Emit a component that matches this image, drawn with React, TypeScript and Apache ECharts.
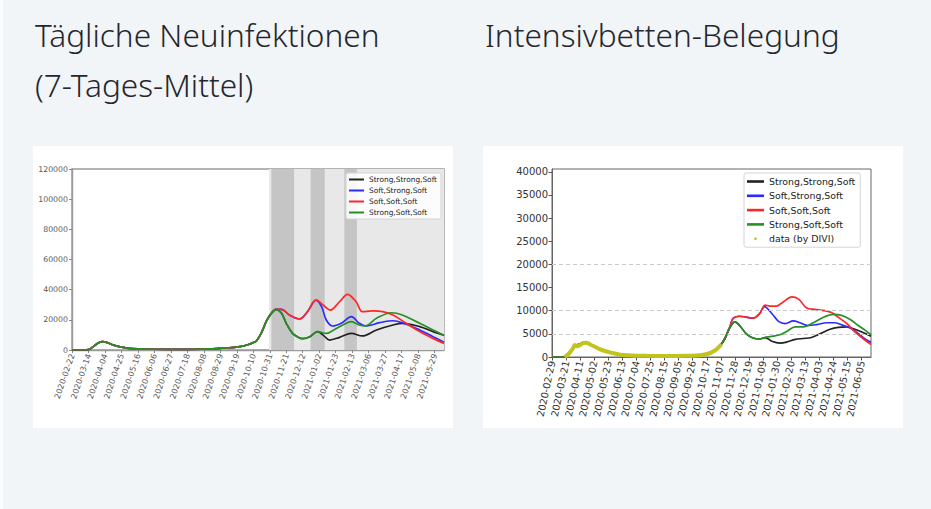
import { useEffect, useRef } from 'react';
import * as echarts from 'echarts';

// Tägliche Neuinfektionen (x: days since 2020-02-22)
const INF_START = '2020-02-22';
const INF_END_DAY = 474;

const infTrunkDates = [
  '2020-02-22', '2020-03-07', '2020-03-14', '2020-03-21', '2020-03-27', '2020-04-01',
  '2020-04-07', '2020-04-14', '2020-04-22', '2020-05-02', '2020-05-16', '2020-06-06',
  '2020-07-11', '2020-08-15', '2020-08-28', '2020-09-09', '2020-09-23', '2020-10-03',
  '2020-10-10', '2020-10-14', '2020-10-20', '2020-10-27', '2020-11-02', '2020-11-08',
];
const infTrunkValues = [
  0, 0, 200, 2600, 4800, 5500, 4900, 3400, 2200, 1300, 800, 500,
  400, 700, 1100, 1500, 2200, 3500, 4900, 6000, 11000, 19400, 24300, 27000,
];

const infGreenDates = [
  '2020-11-15', '2020-11-21', '2020-11-29', '2020-12-06', '2020-12-12', '2020-12-21',
  '2020-12-31', '2021-01-11', '2021-01-19', '2021-02-01', '2021-02-12', '2021-02-22',
  '2021-03-01', '2021-03-16', '2021-04-04', '2021-04-18', '2021-05-10', '2021-05-27', '2021-06-10',
];
const infGreenValues = [
  24300, 17700, 11000, 8500, 7500, 8800, 12200, 11000, 12800, 16600, 18800, 16600,
  15900, 21000, 24700, 23200, 17700, 13300, 9600,
];

const infRedDates = [
  '2020-11-15', '2020-11-25', '2020-12-08', '2020-12-18', '2020-12-29', '2021-01-07',
  '2021-01-16', '2021-01-28', '2021-02-07', '2021-02-18', '2021-02-26', '2021-03-11',
  '2021-03-24', '2021-04-06', '2021-04-23', '2021-05-10', '2021-05-27', '2021-06-10',
];
const infRedValues = [
  27000, 23200, 20600, 25400, 33200, 29800, 26500, 32000, 36900, 32000, 25400, 25900,
  25400, 23200, 17700, 12200, 7700, 4300,
];

const infBlueDates = [
  '2020-11-15', '2020-11-25', '2020-12-08', '2020-12-18', '2020-12-29', '2021-01-05',
  '2021-01-11', '2021-01-19', '2021-01-30', '2021-02-12', '2021-02-22', '2021-03-03',
  '2021-03-20', '2021-04-06', '2021-04-18', '2021-05-10', '2021-05-27', '2021-06-10',
];
const infBlueValues = [
  27000, 23200, 20600, 25400, 33000, 28700, 19900, 15900, 17700, 22100, 17700, 15900,
  18100, 19400, 18100, 13300, 8800, 5200,
];

const infBlackDates = [
  '2020-11-15', '2020-11-21', '2020-11-29', '2020-12-06', '2020-12-12', '2020-12-21',
  '2020-12-31', '2021-01-07', '2021-01-15', '2021-01-28', '2021-02-12', '2021-02-26',
  '2021-03-16', '2021-04-06', '2021-04-18', '2021-05-10', '2021-05-27', '2021-06-10',
];
const infBlackValues = [
  24300, 17700, 11000, 8500, 7500, 8800, 12200, 9900, 6600, 8400, 11000, 9300,
  13300, 16600, 17700, 15500, 12200, 9800,
];

// shaded periods
const lightPeriod = ['2020-10-30', '2021-06-10'];
const darkPeriods = [
  ['2020-11-02', '2020-12-01'],
  ['2020-12-22', '2021-01-09'],
  ['2021-02-03', '2021-02-19'],
];

// Intensivbetten-Belegung (x: days since 2020-02-29)
const ICU_START = '2020-02-29';
const ICU_END_DAY = 476;

const icuTrunkDates = [
  '2020-02-29', '2020-03-19', '2020-03-27', '2020-04-03', '2020-04-10', '2020-04-17',
  '2020-04-24', '2020-05-01', '2020-05-11', '2020-05-21', '2020-06-03', '2020-06-18',
  '2020-07-18', '2020-08-27', '2020-10-01', '2020-10-17', '2020-10-27', '2020-11-06',
  '2020-11-13', '2020-11-20',
];
const icuTrunkValues = [
  0, 0, 1200, 2300, 2800, 3100, 2800, 2300, 1700, 1200, 700, 400,
  250, 250, 350, 600, 1300, 2500, 4000, 6300,
];

const icuGreenDates = [
  '2020-11-28', '2020-12-05', '2020-12-15', '2020-12-25', '2021-01-04', '2021-01-14',
  '2021-01-24', '2021-02-03', '2021-02-13', '2021-02-26', '2021-03-10', '2021-03-25',
  '2021-04-09', '2021-04-24', '2021-05-06', '2021-05-19', '2021-05-31', '2021-06-10', '2021-06-19',
];
const icuGreenValues = [
  7600, 6800, 5000, 4100, 3900, 4300, 4500, 4800, 5500, 6500, 6500, 7400,
  8600, 9200, 9000, 8100, 6800, 5800, 4800,
];

const icuRedDates = [
  '2020-11-25', '2020-12-05', '2020-12-15', '2020-12-25', '2021-01-04', '2021-01-12',
  '2021-01-19', '2021-01-29', '2021-02-08', '2021-02-21', '2021-03-03', '2021-03-15',
  '2021-03-27', '2021-04-11', '2021-04-21', '2021-05-01', '2021-05-14', '2021-05-26',
  '2021-06-07', '2021-06-19',
];
const icuRedValues = [
  8300, 8800, 8600, 8400, 9400, 11200, 11000, 11000, 11900, 13000, 12500, 10600,
  10300, 10000, 9600, 8600, 7200, 5400, 4000, 2700,
];

const icuBlueDates = [
  '2020-11-25', '2020-12-05', '2020-12-15', '2020-12-25', '2021-01-04', '2021-01-11',
  '2021-01-22', '2021-02-01', '2021-02-11', '2021-02-23', '2021-03-05', '2021-03-17',
  '2021-03-30', '2021-04-14', '2021-04-26', '2021-05-09', '2021-05-21', '2021-06-03',
  '2021-06-13', '2021-06-19',
];
const icuBlueValues = [
  8300, 8800, 8600, 8400, 9400, 10900, 9400, 7700, 7200, 7800, 7400, 6800,
  7000, 7400, 7400, 6800, 6100, 4700, 3600, 3200,
];

const icuBlackDates = [
  '2020-11-28', '2020-12-05', '2020-12-15', '2020-12-25', '2021-01-04', '2021-01-12',
  '2021-01-22', '2021-02-03', '2021-02-13', '2021-02-26', '2021-03-10', '2021-03-22',
  '2021-04-04', '2021-04-19', '2021-05-01', '2021-05-14', '2021-05-26', '2021-06-07', '2021-06-19',
];
const icuBlackValues = [
  7600, 6800, 5000, 4100, 3900, 4200, 3400, 3000, 3200, 3800, 4000, 4200,
  5000, 6000, 6400, 6500, 6000, 5300, 4500,
];

const diviDates = [
  '2020-03-19', '2020-03-25', '2020-03-31', '2020-04-03', '2020-04-06', '2020-04-10',
  '2020-04-15', '2020-04-20', '2020-04-26', '2020-05-03', '2020-05-10', '2020-05-18',
  '2020-05-28', '2020-06-10', '2020-06-25', '2020-07-20', '2020-08-20', '2020-09-15',
  '2020-10-01', '2020-10-10', '2020-10-17', '2020-10-24', '2020-10-31', '2020-11-05', '2020-11-08',
];
const diviValues = [
  0, 700, 1800, 2600, 2300, 2500, 3000, 3100, 2700, 2200, 1700, 1300,
  900, 500, 350, 250, 230, 280, 350, 450, 650, 1000, 1600, 2300, 2700,
];

const icuThresholds = [5000, 10000, 20000];

const SERIES_NAMES = ['Strong,Strong,Soft', 'Soft,Strong,Soft', 'Soft,Soft,Soft', 'Strong,Soft,Soft'];
const SERIES_COLORS = ['#222222', '#2b2bff', '#ff2626', '#259125'];
const DIVI_NAME = 'data (by DIVI)';

const DAY = 86400000;
const dayOf = (date: string, start: string) => Math.round((Date.parse(date) - Date.parse(start)) / DAY);
const dateOf = (day: number, start: string) =>
  new Date(Date.parse(start) + day * DAY).toISOString().slice(0, 10);

function pairs(start: string, dates: string[], values: number[]) {
  return dates.map((d, i) => [dayOf(d, start), values[i]]);
}

const FONT = 'DejaVu Sans';
const TITLE_STYLE = {
  fontFamily: 'Noto Sans',
  fontSize: 31.6,
  fontWeight: 300,
  color: '#25272c',
  lineHeight: 50,
};

export default function App() {
  const ref = useRef<HTMLDivElement>(null);

  useEffect(() => {
    if (!ref.current) return;
    const chart = echarts.init(ref.current, undefined, { renderer: 'svg' });

    const infTrunk = pairs(INF_START, infTrunkDates, infTrunkValues);
    const infTails = [
      pairs(INF_START, infBlackDates, infBlackValues),
      pairs(INF_START, infBlueDates, infBlueValues),
      pairs(INF_START, infRedDates, infRedValues),
      pairs(INF_START, infGreenDates, infGreenValues),
    ];
    const icuTrunk = pairs(ICU_START, icuTrunkDates, icuTrunkValues);
    const icuTails = [
      pairs(ICU_START, icuBlackDates, icuBlackValues),
      pairs(ICU_START, icuBlueDates, icuBlueValues),
      pairs(ICU_START, icuRedDates, icuRedValues),
      pairs(ICU_START, icuGreenDates, icuGreenValues),
    ];

    const lineSeries = (idx: number, name: string, color: string, data: number[][], z: number) => ({
      type: 'line',
      name,
      xAxisIndex: idx,
      yAxisIndex: idx,
      data,
      smooth: 0.35,
      showSymbol: false,
      symbol: 'none',
      color,
      lineStyle: { color, width: 1.7 },
      z,
    });

    const option: echarts.EChartsOption = {
      animation: false,
      backgroundColor: '#f2f5f8',
      textStyle: { fontFamily: FONT },
      graphic: [
        { type: 'rect', z: -10, shape: { x: 0, y: 0, width: 3, height: 509 }, style: { fill: '#fafbfc' } },
        { type: 'rect', z: -10, shape: { x: 33, y: 146, width: 420, height: 282 }, style: { fill: '#ffffff' } },
        { type: 'rect', z: -10, shape: { x: 483, y: 146, width: 420, height: 282 }, style: { fill: '#ffffff' } },
      ],
      title: [
        { text: 'Tägliche Neuinfektionen\n(7-Tages-Mittel)', left: 30, top: 4, textStyle: TITLE_STYLE },
        { text: 'Intensivbetten-Belegung', left: 480, top: 4, textStyle: TITLE_STYLE },
      ],
      legend: [
        {
          data: SERIES_NAMES,
          orient: 'vertical',
          left: 346,
          top: 173,
          icon: 'rect',
          itemWidth: 15,
          itemHeight: 2,
          itemGap: 2,
          padding: [2, 4, 2, 3],
          backgroundColor: 'rgba(255,255,255,0.85)',
          borderColor: '#d4d4d4',
          borderWidth: 1,
          borderRadius: 2,
          textStyle: { fontSize: 7.4, lineHeight: 9, color: '#222', fontFamily: FONT },
        },
        {
          data: [...SERIES_NAMES, { name: DIVI_NAME, icon: 'circle' }],
          orient: 'vertical',
          left: 744,
          top: 173,
          icon: 'rect',
          itemWidth: 17,
          itemHeight: 2.6,
          itemGap: 3.3,
          itemTextGap: 12,
          padding: [3, 5, 3, 3],
          backgroundColor: 'rgba(255,255,255,0.85)',
          borderColor: '#d4d4d4',
          borderWidth: 1,
          borderRadius: 2,
          textStyle: { fontSize: 9.4, lineHeight: 11, color: '#222', fontFamily: FONT },
        },
      ],
      grid: [
        { left: 72, top: 169, width: 372, height: 181, show: true, borderColor: '#9a9a9a', borderWidth: 1.4, backgroundColor: 'transparent' },
        { left: 552, top: 169, width: 319, height: 188, show: true, borderColor: '#666', borderWidth: 1, backgroundColor: 'transparent' },
      ],
      xAxis: [
        {
          type: 'value',
          gridIndex: 0,
          min: 0,
          max: INF_END_DAY,
          interval: 21,
          axisLine: { lineStyle: { color: '#9a9a9a', width: 1.4 } },
          axisTick: { length: 3, lineStyle: { color: '#888' } },
          splitLine: { show: false },
          axisLabel: {
            rotate: 71,
            fontSize: 8.1,
            color: '#5a5a5a',
            margin: 4,
            showMaxLabel: false,
            formatter: (v: number) => (v % 21 === 0 ? dateOf(v, INF_START) : ''),
          },
        },
        {
          type: 'value',
          gridIndex: 1,
          min: 0,
          max: ICU_END_DAY,
          interval: 21,
          axisLine: { lineStyle: { color: '#666' } },
          axisTick: { length: 3.5, lineStyle: { color: '#555' } },
          splitLine: { show: false },
          axisLabel: {
            rotate: 78,
            fontSize: 9.8,
            color: '#333',
            margin: 4,
            showMaxLabel: false,
            formatter: (v: number) => (v % 21 === 0 ? dateOf(v, ICU_START) : ''),
          },
        },
      ],
      yAxis: [
        {
          type: 'value',
          gridIndex: 0,
          min: 0,
          max: 120000,
          interval: 20000,
          axisLine: { show: true, lineStyle: { color: '#9a9a9a', width: 1.4 } },
          axisTick: { show: true, length: 3, lineStyle: { color: '#888' } },
          splitLine: { show: false },
          axisLabel: { fontSize: 7.8, color: '#5a5a5a', margin: 4, formatter: (v: number) => String(v) },
        },
        {
          type: 'value',
          gridIndex: 1,
          min: 0,
          max: 40600,
          interval: 5000,
          axisLine: { show: true, lineStyle: { color: '#666' } },
          axisTick: { show: true, length: 3.5, lineStyle: { color: '#555' } },
          splitLine: { show: false },
          axisLabel: {
            fontSize: 10,
            color: '#333',
            margin: 4,
            showMaxLabel: false,
            formatter: (v: number) => (v % 5000 === 0 ? String(v) : ''),
          },
        },
      ],
      series: [
        {
          type: 'line',
          name: 'shading',
          xAxisIndex: 0,
          yAxisIndex: 0,
          data: [],
          z: 1,
          markArea: {
            silent: true,
            data: [
              [
                { xAxis: dayOf(lightPeriod[0], INF_START), itemStyle: { color: '#e8e8e8' } },
                { xAxis: dayOf(lightPeriod[1], INF_START) },
              ],
              ...darkPeriods.map(([a, b]) => [
                { xAxis: dayOf(a, INF_START), itemStyle: { color: '#c5c5c5' } },
                { xAxis: dayOf(b, INF_START) },
              ]),
            ] as any,
          },
        },
        ...SERIES_NAMES.map((n, i) => lineSeries(0, n, SERIES_COLORS[i], [...infTrunk, ...infTails[i]], 2 + i)),
        {
          type: 'line',
          name: 'thresholds',
          xAxisIndex: 1,
          yAxisIndex: 1,
          data: [],
          z: 1,
          markLine: {
            silent: true,
            symbol: 'none',
            label: { show: false },
            lineStyle: { color: '#c9c9c9', type: [4, 3], width: 1 },
            data: icuThresholds.map((v) => ({ yAxis: v })),
          },
        },
        ...SERIES_NAMES.map((n, i) => lineSeries(1, n, SERIES_COLORS[i], [...icuTrunk, ...icuTails[i]], 2 + i)),
        {
          type: 'line',
          name: DIVI_NAME,
          xAxisIndex: 1,
          yAxisIndex: 1,
          data: pairs(ICU_START, diviDates, diviValues),
          smooth: 0.3,
          showSymbol: false,
          symbol: 'none',
          color: '#bcbd22',
          lineStyle: { color: '#c2c41e', width: 4 },
          z: 8,
        },
      ] as any,
    };

    chart.setOption(option);
    return () => {
      chart.dispose();
    };
  }, []);

  return <div ref={ref} style={{ position: 'fixed', left: 0, top: 0, width: 931, height: 509 }} />;
}
